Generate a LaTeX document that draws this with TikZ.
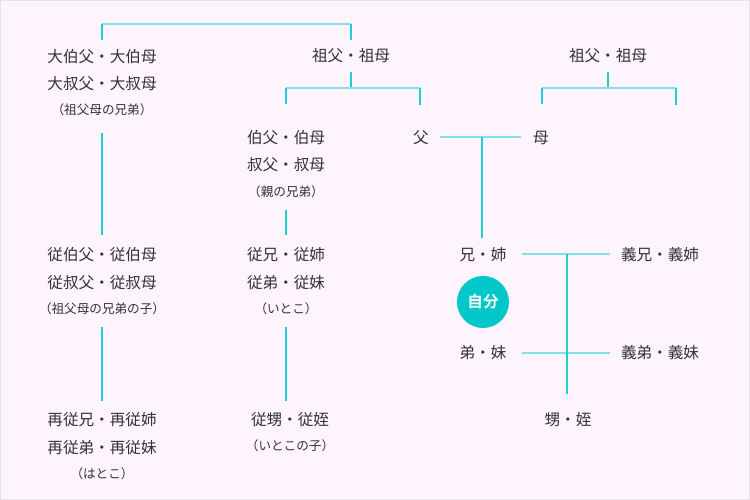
\documentclass[tikz,border=0pt]{standalone}
\usepackage{fontspec}
\setmainfont{Noto Sans CJK JP}
\newfontfamily\jpbold[BoldFont={* Bold}]{Noto Sans CJK JP}
\definecolor{bgpink}{HTML}{FDF4FD}
\definecolor{frameg}{HTML}{E4E4E4}
\definecolor{tealc}{HTML}{1DCFD1}
\definecolor{tealh}{HTML}{7EE3E5}
\definecolor{txt}{HTML}{333333}
\definecolor{selfc}{HTML}{00C8C8}
\tikzset{
  lbl/.style={inner sep=0pt, text=txt, font=\fontsize{15.6}{18}\selectfont},
  sub/.style={inner sep=0pt, text=txt, font=\fontsize{12.6}{15}\selectfont},
  vline/.style={draw=tealc, line width=1.1pt},
  hline/.style={draw=tealh, line width=2pt},
}
\begin{document}
\begin{tikzpicture}[x=1pt,y=-1pt]
\useasboundingbox (0,0) rectangle (750,500);
\fill[bgpink] (0,0) rectangle (750,500);
\draw[frameg, line width=1pt] (0.5,0.5) rectangle (749.5,499.5);

% column 1
\node[lbl] (a1) at (102,57) {大伯父・大伯母};
\node[lbl] (a2) at (102,84) {大叔父・大叔母};
\node[sub] (a3) at (102,110) {（祖父母の兄弟）};
\node[lbl] (b1) at (102,255) {従伯父・従伯母};
\node[lbl] (b2) at (102,283) {従叔父・従叔母};
\node[sub] (b3) at (102,309) {（祖父母の兄弟の子）};
\node[lbl] (c1) at (102,420) {再従兄・再従姉};
\node[lbl] (c2) at (102,448) {再従弟・再従妹};
\node[sub] (c3) at (102,474) {（はとこ）};

% column 2
\node[lbl] (gp) at (351,56) {祖父・祖母};
\node[lbl] (d1) at (286,138) {伯父・伯母};
\node[lbl] (d2) at (286,165) {叔父・叔母};
\node[sub] (d3) at (286,192) {（親の兄弟）};
\node[lbl] (e1) at (286,255) {従兄・従姉};
\node[lbl] (e2) at (286,283) {従弟・従妹};
\node[sub] (e3) at (286,309) {（いとこ）};
\node[lbl] (f1) at (290,420) {従甥・従姪};
\node[sub] (f2) at (290,446) {（いとこの子）};

% parents
\node[lbl] (fa) at (421,138) {父};
\node[lbl] (mo) at (541,138) {母};
\node[lbl] (gp2) at (608,56) {祖父・祖母};

% self
\node[lbl] (sib1) at (483,255) {兄・姉};
\node[circle, fill=selfc, minimum size=52pt, inner sep=0pt, text=white, font=\jpbold\bfseries\fontsize{15.6}{18}\selectfont] (self) at (483,302) {自分};
\node[lbl] (sib2) at (483,353) {弟・妹};
\node[lbl] (in1) at (660,255) {義兄・義姉};
\node[lbl] (in2) at (660,353) {義弟・義妹};
\node[lbl] (nn) at (568,420) {甥・姪};

% coordinates for connectors
\coordinate (t1) at (102,24);
\coordinate (t2) at (351,24);
\coordinate (j1) at (351,88);
\coordinate (j1l) at (286,88);
\coordinate (j1r) at (420,88);
\coordinate (j2) at (608,88);
\coordinate (j2l) at (542,88);
\coordinate (j2r) at (676,88);
\coordinate (pm) at (482,137);

% top great-grandparent link
\draw[hline] (t1) -- (t2);
\draw[vline] (t1) -- (102,40);
\draw[vline] (t2) -- (351,40);
\draw[vline] (102,133) -- (102,235);
\draw[vline] (102,327) -- (102,401);

% grandparents (left)
\draw[vline] (351,72) -- (j1);
\draw[hline] (j1l) -- (j1r);
\draw[vline] (j1l) -- (286,104);
\draw[vline] (j1r) -- (420,105);
\draw[vline] (286,210) -- (286,235);
\draw[vline] (286,327) -- (286,401);

% grandparents (right)
\draw[vline] (608,72) -- (j2);
\draw[hline] (j2l) -- (j2r);
\draw[vline] (j2l) -- (542,104);
\draw[vline] (j2r) -- (676,105);

% parents
\draw[hline] (440,137) -- (521,137);
\draw[vline] (pm) -- (482,238);

% siblings and in-laws
\draw[hline] (522,254) -- (610,254);
\draw[hline] (522,353) -- (610,353);
\draw[vline] (567,254) -- (567,394);
\end{tikzpicture}
\end{document}
